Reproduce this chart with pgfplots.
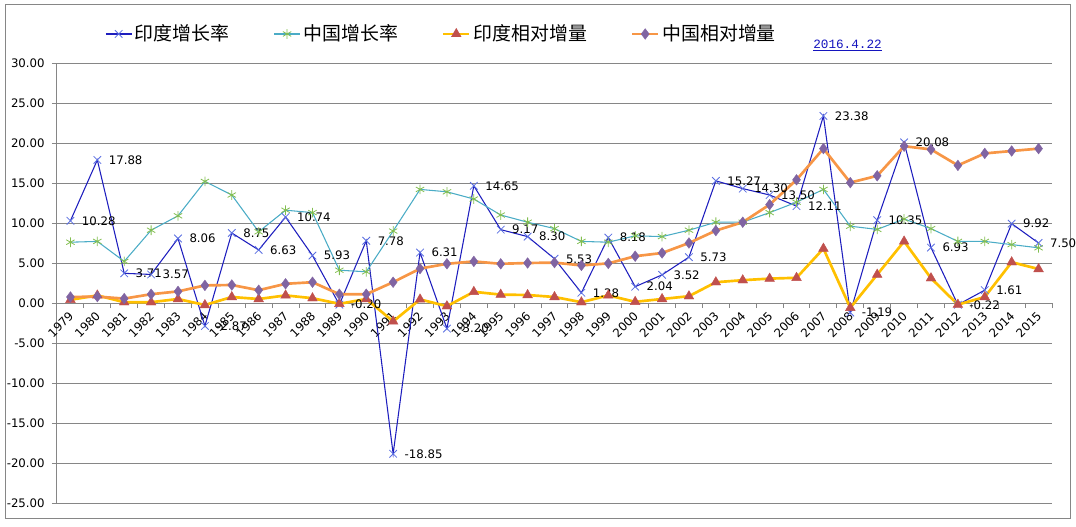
\documentclass[border=0pt]{standalone}
\usepackage{fontspec}
\setmainfont{DejaVu Sans}
\newfontfamily\cjk{Noto Sans CJK SC}
\newfontfamily\datefont{Liberation Mono}
\usepackage{pgfplots}
\pgfplotsset{compat=1.18}
\usepackage{pgfplotstable}

\definecolor{gridgray}{RGB}{134,134,134}
\definecolor{indline}{RGB}{30,30,190}
\definecolor{indmark}{RGB}{90,110,225}
\definecolor{chnline}{RGB}{75,172,198}
\definecolor{chnmark}{RGB}{130,190,80}
\definecolor{relind}{RGB}{255,192,0}
\definecolor{relindmark}{RGB}{192,80,77}
\definecolor{relchn}{RGB}{247,150,70}
\definecolor{relchnmark}{RGB}{128,100,162}
\definecolor{datelink}{RGB}{20,20,190}

% i = 0 for 1979 ... 36 for 2015
\pgfplotstableread{
i  indg    chng  indr   chnr
0  10.28   7.6   0.40   0.75
1  17.88   7.7   0.95   0.80
2  3.71    5.2   0.10   0.55
3  3.57    9.1   0.10   1.10
4  8.06    10.9  0.50   1.45
5  -2.87   15.2  -0.25  2.20
6  8.75    13.5  0.75   2.25
7  6.63    8.9   0.50   1.60
8  10.74   11.6  0.95   2.40
9  5.93    11.3  0.60   2.60
10 -0.20   4.1   -0.10  1.10
11 7.78    3.9   0.50   1.10
12 -18.85  9.0   -2.30  2.60
13 6.31    14.2  0.45   4.30
14 -3.20   13.9  -0.40  4.90
15 14.65   13.0  1.40   5.20
16 9.17    11.0  1.05   4.90
17 8.30    10.1  1.00   5.00
18 5.53    9.3   0.75   5.05
19 1.28    7.7   0.10   4.70
20 8.18    7.6   0.95   4.95
21 2.04    8.4   0.15   5.85
22 3.52    8.3   0.50   6.25
23 5.73    9.1   0.85   7.50
24 15.27   10.1  2.60   9.05
25 14.30   10.1  2.85   10.10
26 13.50   11.3  3.05   12.30
27 12.11   12.6  3.15   15.40
28 23.38   14.2  6.80   19.30
29 -1.19   9.6   -0.60  15.05
30 10.35   9.2   3.55   15.90
31 20.08   10.5  7.70   19.60
32 6.93    9.3   3.10   19.20
33 -0.22   7.7   -0.20  17.20
34 1.61    7.7   0.75   18.70
35 9.92    7.3   5.10   19.00
36 7.50    6.9   4.25   19.30
}\growth

\begin{document}
\begin{tikzpicture}
\useasboundingbox (-42.75pt,-17.25pt) rectangle (764.25pt,377.25pt);
\draw[gridgray, line width=0.75pt] (-38.25pt,-11.25pt) rectangle (759.75pt,373.5pt);
\begin{axis}[
  at={(0pt,0pt)}, anchor=south west,
  scale only axis, width=746.25pt, height=330pt,
  xmin=-0.5, xmax=36.5, ymin=-25, ymax=30,
  axis x line=middle, axis y line=left,
  axis line style={-, draw=gridgray, line width=0.75pt},
  hide obscured x ticks=false, hide obscured y ticks=false,
  clip=false,
  ytick={-25,-20,...,30},
  ymajorgrids, grid style={gridgray, line width=0.75pt},
  xtick={0,...,36},
  minor xtick={-0.5,0.5,...,36.5},
  major x tick style={draw=none},
  minor x tick style={draw=gridgray, line width=0.75pt},
  y tick style={draw=gridgray, line width=0.75pt},
  tick align=outside,
  major tick length=3.75pt, minor tick length=3.75pt,
  xticklabel={\pgfmathparse{int(\tick+1979)}\pgfmathresult},
  xticklabel style={xshift=3pt, yshift=-2pt, rotate=45, anchor=east, font=\fontsize{8.8}{10}\selectfont},
  yticklabel style={font=\fontsize{8.8}{10}\selectfont},
  yticklabel shift=2pt,
  /pgf/number format/.cd, fixed, fixed zerofill, precision=2, assume math mode=true,
  /pgfplots/.cd,
  legend columns=4,
  legend cell align=left,
  legend style={draw=none, fill=none, at={(0.0482,1.066)}, anchor=west, inner sep=0pt,
    font=\cjk\fontsize{14.2}{16}\selectfont,
    /tikz/every even column/.append style={column sep=31pt}},
  legend image code/.code={\draw[mark repeat=2,mark phase=2,#1] plot coordinates {(0pt,0pt) (9.7pt,0pt) (19.5pt,0pt)};},
]
\addplot[indline, line width=0.8pt, mark=x, mark size=4pt,
  mark options={indmark, line width=0.6pt},
  point meta=explicit,
  nodes near coords={\pgfmathprintnumber[fixed,fixed zerofill,precision=2,assume math mode=true]{\pgfplotspointmeta}},
  every node near coord/.append style={text=black, anchor=west, xshift=5pt, font=\fontsize{8.8}{10}\selectfont}]
  table[x=i, y=indg, meta=indg] {\growth};
\addplot[chnline, line width=0.8pt, mark=asterisk, mark size=3.6pt,
  mark options={chnmark, line width=0.6pt}]
  table[x=i, y=chng] {\growth};
\addplot[relind, line width=2pt, mark=triangle*, mark size=4.2pt,
  mark options={relindmark, fill=relindmark, line width=0.3pt}]
  table[x=i, y=indr] {\growth};
\addplot[relchn, line width=2pt, mark=diamond*, mark size=4pt,
  mark options={relchnmark, fill=relchnmark, line width=0.3pt}]
  table[x=i, y=chnr] {\growth};
\legend{印度增长率, 中国增长率, 印度相对增量, 中国相对增量}
\node[font=\datefont\fontsize{9.5}{11}\selectfont, text=datelink] at (rel axis cs:0.7945,1.039) {\underline{2016.4.22}};
\end{axis}
\end{tikzpicture}
\end{document}
